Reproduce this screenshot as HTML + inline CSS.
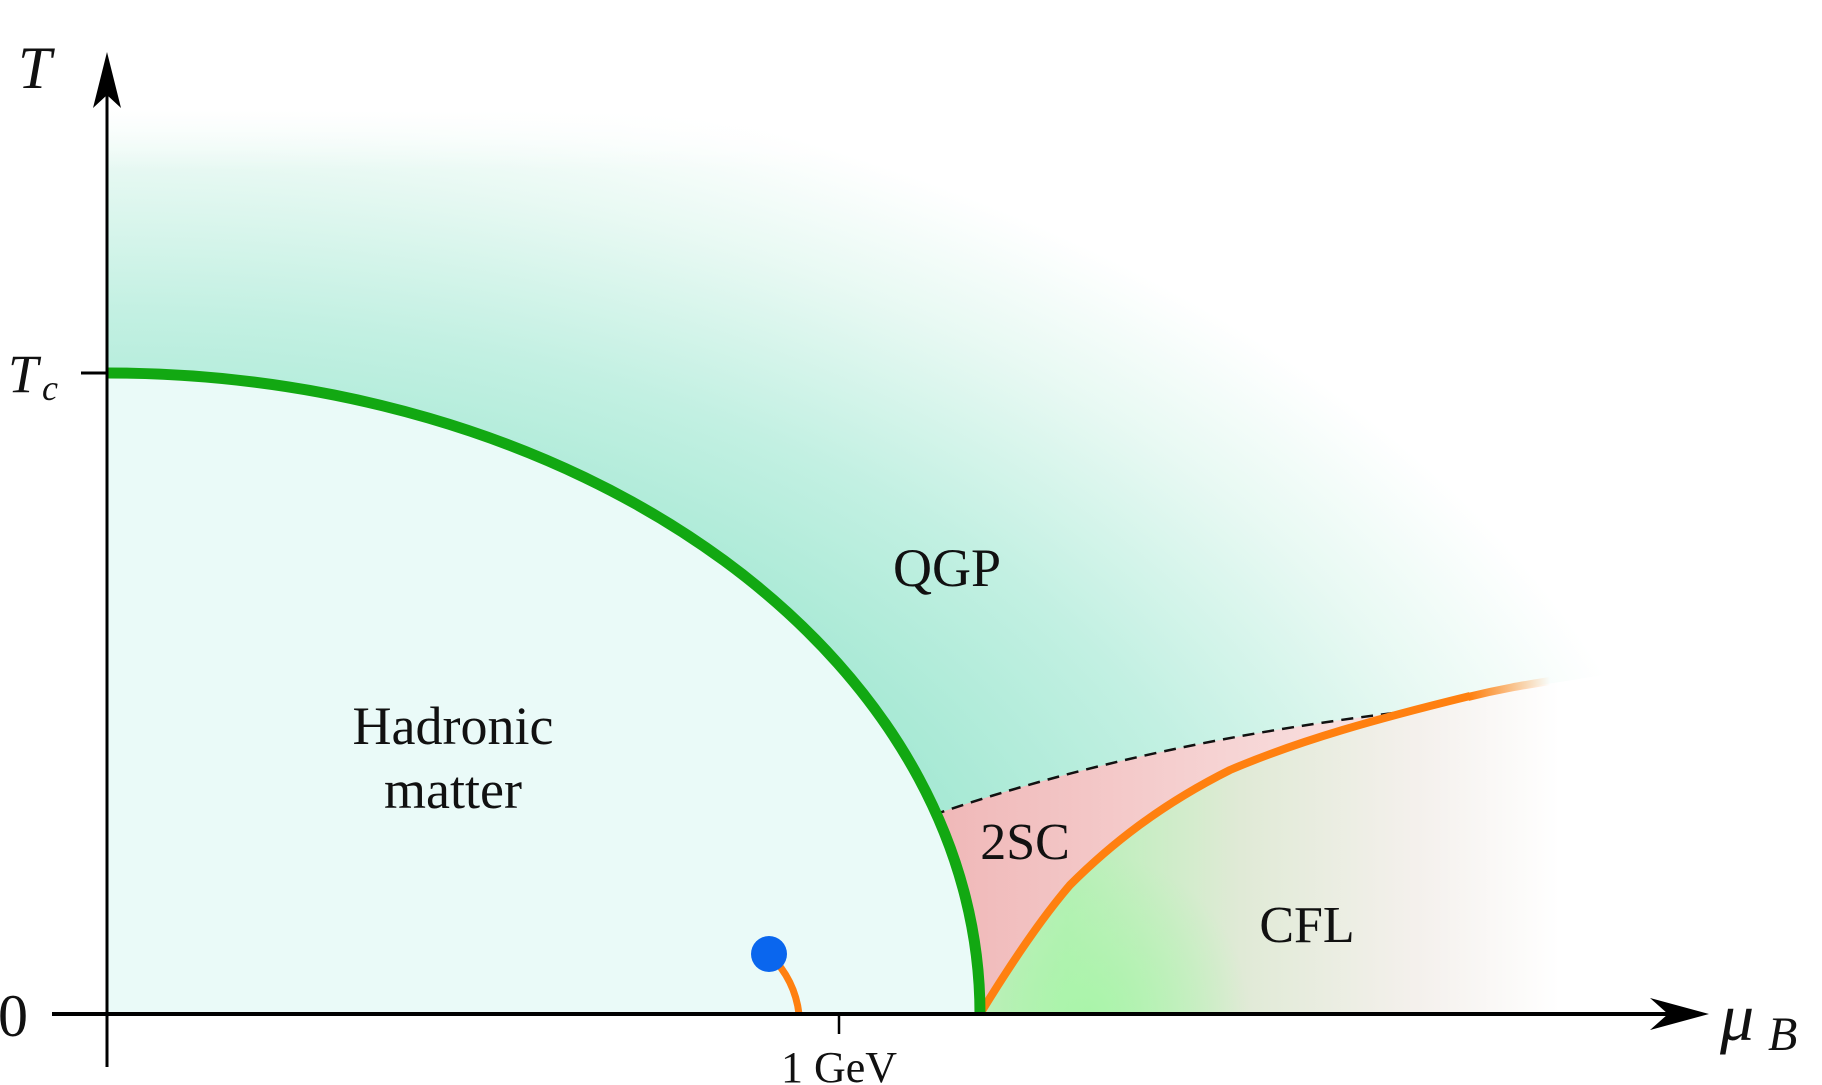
<!DOCTYPE html>
<html><head><meta charset="utf-8"><style>
html,body{margin:0;padding:0;background:#fff}
svg{display:block}
text{font-family:"Liberation Serif","DejaVu Serif",serif;fill:#111}
</style></head><body>
<svg width="1822" height="1085" viewBox="0 0 1822 1085" xmlns="http://www.w3.org/2000/svg">
<defs>
<radialGradient id="qgp" gradientUnits="userSpaceOnUse" cx="107" cy="1014" r="1000" gradientTransform="translate(107 1014) scale(1.6 0.97) translate(-107 -1014)">
<stop offset="0.5" stop-color="#9ce6cf"/>
<stop offset="0.72" stop-color="#c2f0e2"/>
<stop offset="0.88" stop-color="#e8f9f3"/>
<stop offset="1" stop-color="#ffffff"/>
</radialGradient>
<linearGradient id="cfl" gradientUnits="userSpaceOnUse" x1="980" y1="0" x2="1560" y2="0">
<stop offset="0" stop-color="#c5ecc0"/>
<stop offset="0.15" stop-color="#b6f0b6"/>
<stop offset="0.45" stop-color="#e0ead6"/>
<stop offset="0.75" stop-color="#f4f0ec"/>
<stop offset="1" stop-color="#ffffff"/>
</linearGradient>
<radialGradient id="cflg" gradientUnits="userSpaceOnUse" cx="1090" cy="1014" r="160">
<stop offset="0" stop-color="#a8f5a8" stop-opacity="0.9"/>
<stop offset="1" stop-color="#a8f5a8" stop-opacity="0"/>
</radialGradient>
<linearGradient id="pink" gradientUnits="userSpaceOnUse" x1="940" y1="0" x2="1420" y2="0">
<stop offset="0" stop-color="#f0b8b8"/>
<stop offset="1" stop-color="#fae6e6"/>
</linearGradient>
<linearGradient id="orf" gradientUnits="userSpaceOnUse" x1="1470" y1="0" x2="1550" y2="0">
<stop offset="0" stop-color="#ff8010"/>
<stop offset="1" stop-color="#ff8010" stop-opacity="0"/>
</linearGradient>
<linearGradient id="topfade" x1="0" y1="0" x2="0" y2="1">
<stop offset="0" stop-color="#fff" stop-opacity="1"/>
<stop offset="1" stop-color="#fff" stop-opacity="0"/>
</linearGradient>
</defs>
<rect x="107" y="110" width="1600" height="904" fill="url(#qgp)"/>
<rect x="107" y="110" width="1600" height="60" fill="url(#topfade)"/>
<path d="M107,373 A873,641 0 0 1 980,1014 L107,1014 Z" fill="#eafaf8"/>
<path d="M1440,706 C1480,697 1520,688 1560,682 L1822,640 L1822,1014 L1400,1014 Z" fill="#fff"/>
<path d="M980,1014 C1010,965 1040,920 1070,885 C1110,845 1160,805 1230,770 C1300,740 1380,718 1440,706 C1480,697 1520,688 1560,682 L1600,1014 Z" fill="url(#cfl)"/>
<path d="M980,1014 C1010,965 1040,920 1070,885 C1110,845 1160,805 1230,770 L1300,1014 Z" fill="url(#cflg)"/>
<path d="M933,815 Q1150,740 1428,709 C1380,718 1300,740 1230,770 C1160,805 1110,845 1070,885 C1040,920 1010,965 980,1014 C972,940 958,870 933,815 Z" fill="url(#pink)"/>
<path d="M933,815 Q1150,740 1428,709" fill="none" stroke="#111" stroke-width="2.5" stroke-dasharray="12,8"/>
<path d="M980,1014 C1010,965 1040,920 1070,885 C1110,845 1160,805 1230,770 C1300,740 1380,718 1470,696" fill="none" stroke="#ff8010" stroke-width="8"/>
<path d="M1468,697 C1500,689 1525,685 1550,681" fill="none" stroke="url(#orf)" stroke-width="8"/>
<path d="M107,373 A873,641 0 0 1 980,1014" fill="none" stroke="#12a812" stroke-width="11"/>
<path d="M770,955 Q795,980 799,1014" fill="none" stroke="#ff8010" stroke-width="7"/>
<circle cx="769" cy="954" r="18" fill="#0a66ee"/>
<line x1="107" y1="80" x2="107" y2="1067" stroke="#000" stroke-width="3"/>
<path d="M107,52 L93,108 L107,95 L121,108 Z" fill="#000"/>
<line x1="52" y1="1014" x2="1690" y2="1014" stroke="#000" stroke-width="4"/>
<path d="M1709,1014 L1650,998 L1668,1014 L1650,1030 Z" fill="#000"/>
<line x1="81" y1="373" x2="107" y2="373" stroke="#000" stroke-width="3"/>
<line x1="839" y1="1014" x2="839" y2="1034" stroke="#000" stroke-width="2.5"/>
<text x="18" y="88" font-size="60" font-style="italic">T</text>
<text x="8" y="392" font-size="54" font-style="italic">T</text>
<text x="42" y="400" font-size="36" font-style="italic">c</text>
<text x="-2" y="1036" font-size="60">0</text>
<text x="839" y="1082" font-size="44" text-anchor="middle">1 GeV</text>
<text x="1720" y="1040" font-size="68" font-style="italic">μ</text>
<text x="1768" y="1050" font-size="48" font-style="italic">B</text>
<text x="947" y="586" font-size="54" text-anchor="middle">QGP</text>
<text x="453" y="744" font-size="54" text-anchor="middle">Hadronic</text>
<text x="453" y="808" font-size="54" text-anchor="middle">matter</text>
<text x="1025" y="859" font-size="52" text-anchor="middle">2SC</text>
<text x="1307" y="942" font-size="52" text-anchor="middle">CFL</text>
</svg>
</body></html>
